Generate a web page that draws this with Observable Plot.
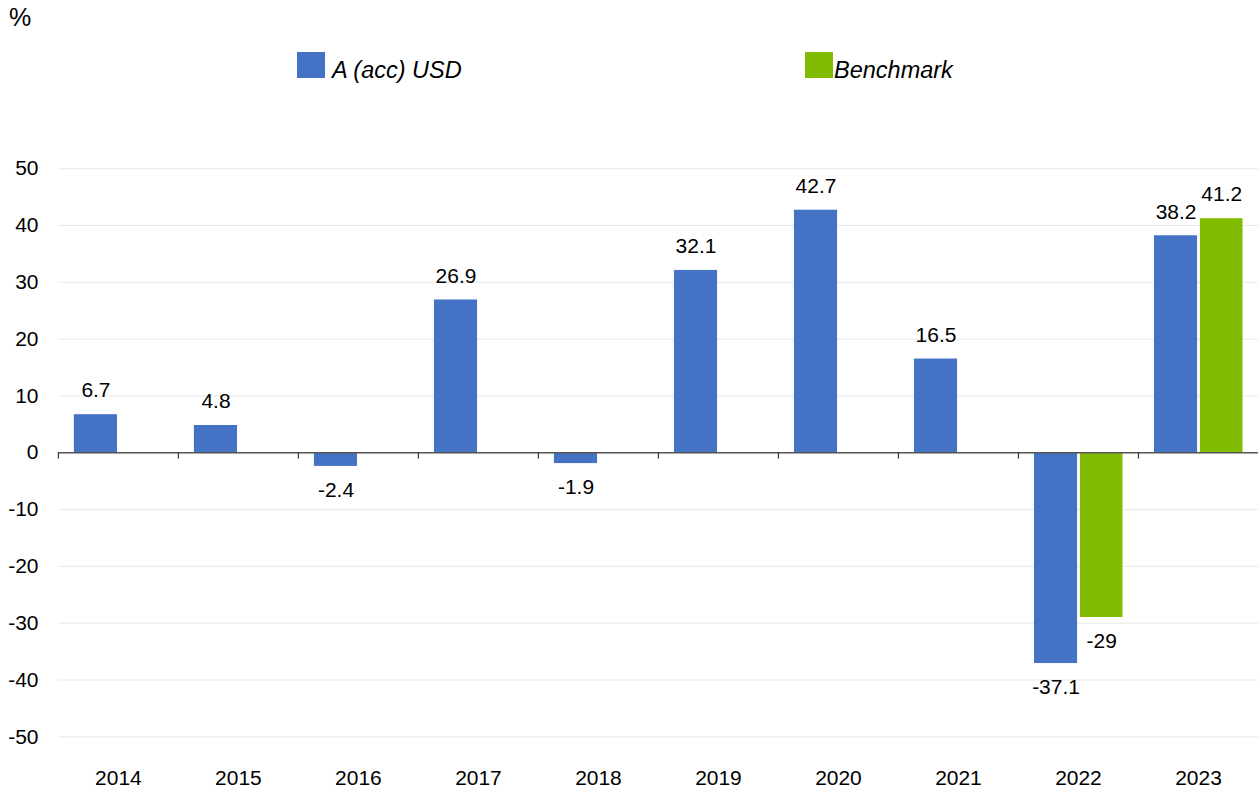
<!DOCTYPE html>
<html>
<head>
<meta charset="utf-8">
<script src="https://cdn.jsdelivr.net/npm/d3@7"></script>
<script src="https://cdn.jsdelivr.net/npm/@observablehq/plot@0.6"></script>
<style>
  html, body { margin: 0; padding: 0; background: #fff; overflow: hidden; }
  #wrap { position: relative; width: 1258px; height: 789px; overflow: hidden; font-family: "Liberation Sans", Arial, sans-serif; color: #000; }
  #unit { position: absolute; left: 9px; top: 3px; font-size: 25px; }
  .leg { position: absolute; top: 52px; height: 26px; display: flex; align-items: center; font-size: 23.5px; font-style: italic; }
  .sw { width: 28px; height: 26px; display: inline-block; }
  .lt { position: relative; top: 5px; }
  #chart { position: absolute; left: 0; top: 0; }
</style>
</head>
<body>
<div id="wrap">
  <div id="unit">%</div>
  <div class="leg" style="left:297px"><span class="sw" style="background:#4472c4"></span><span class="lt" style="margin-left:7px">A (acc) USD</span></div>
  <div class="leg" style="left:805px"><span class="sw" style="background:#82bc00"></span><span class="lt" style="margin-left:1px">Benchmark</span></div>
  <div id="chart"></div>
</div>
<script>
const years = [2014, 2015, 2016, 2017, 2018, 2019, 2020, 2021, 2022, 2023];
const fundValues = [6.7, 4.8, -2.4, 26.9, -1.9, 32.1, 42.7, 16.5, -37.1, 38.2];
const benchmarkValues = [null, null, null, null, null, null, null, null, -29, 41.2];
const yTicks = [-50, -40, -30, -20, -10, 0, 10, 20, 30, 40, 50];
const seriesNames = ["A (acc) USD", "Benchmark"];
const colors = ["#4472c4", "#82bc00"];

const fund = years.map((year, i) => ({year, value: fundValues[i]}));
const bench = years.map((year, i) => ({year, value: benchmarkValues[i]})).filter(d => d.value != null);
const boundaries = years.map(y => y - 0.5);

const fs = 21;
const label = d => String(d.value);

const chart = Plot.plot({
  width: 1260,
  height: 789,
  marginLeft: 58,
  marginRight: 0,
  marginTop: 168.5,
  marginBottom: 51.5,
  style: {fontFamily: '"Liberation Sans", Arial, sans-serif', fontSize: fs + "px", color: "#000", background: "transparent"},
  x: {domain: [2013.5, 2023.5], axis: null},
  y: {domain: [-50, 50], axis: null},
  marks: [
    Plot.gridY(yTicks, {stroke: "#e8e8e8", strokeOpacity: 1, strokeWidth: 1}),
    Plot.axisY(yTicks, {tickSize: 0, tickPadding: 20, tickFormat: d => String(d), fontSize: fs, label: null}),
    Plot.axisX(years, {anchor: "bottom", tickSize: 0, tickPadding: 33, tickFormat: d => String(d), fontSize: fs, label: null}),
    Plot.rectY(fund, {x1: d => d.year - 0.5, x2: d => d.year + 0.5, y1: 0, y2: "value", fill: colors[0], insetLeft: 16, insetRight: 61}),
    Plot.rectY(bench, {x1: d => d.year - 0.5, x2: d => d.year + 0.5, y1: 0, y2: "value", fill: colors[1], insetLeft: 62, insetRight: 15.5}),
    Plot.ruleY([0], {stroke: "#555", strokeWidth: 1.5}),
    Plot.ruleX(boundaries, {x: d => d, y1: 0, y2: -1.1, stroke: "#333", strokeWidth: 1.2}),
    Plot.text(fund.filter(d => d.value >= 0), {x: "year", y: "value", text: label, dx: -22.5, dy: -24, fontSize: fs, fill: "#000"}),
    Plot.text(fund.filter(d => d.value < 0), {x: "year", y: "value", text: label, dx: -22.5, dy: 24, fontSize: fs, fill: "#000"}),
    Plot.text(bench.filter(d => d.value >= 0), {x: "year", y: "value", text: label, dx: 23.3, dy: -24, fontSize: fs, fill: "#000"}),
    Plot.text(bench.filter(d => d.value < 0), {x: "year", y: "value", text: label, dx: 23.3, dy: 24, fontSize: fs, fill: "#000"})
  ]
});
document.getElementById("chart").appendChild(chart);
</script>
</body>
</html>
